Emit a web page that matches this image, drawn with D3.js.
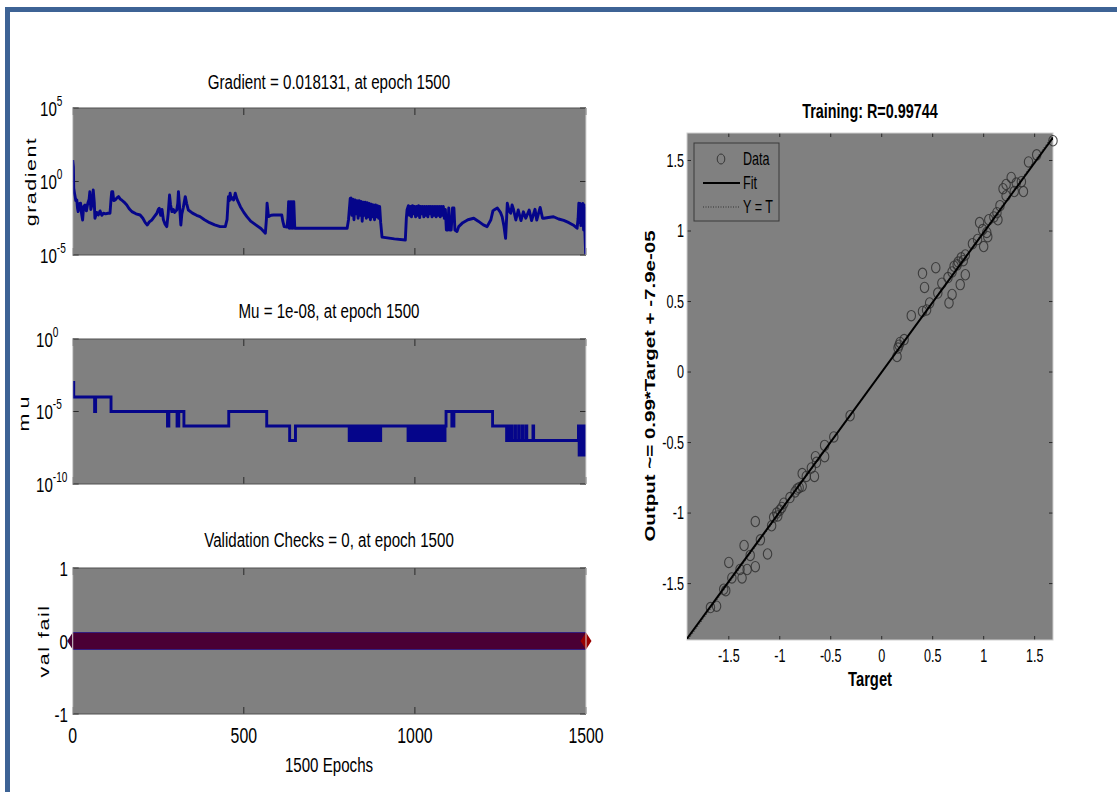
<!DOCTYPE html>
<html>
<head>
<meta charset="utf-8">
<script src="https://cdn.jsdelivr.net/npm/d3@7"></script>
<style>
    body { margin: 0; background: #ffffff; }
    text { font-family: "Liberation Sans", Arial, sans-serif; fill: #000; }
</style>
</head>
<body>
<svg id="chart" width="1117" height="792"></svg>
<script>

// ---- data ----
const epochTicks = [0, 500, 1000, 1500];
const gradTickExp = [-5, 0, 5];
const muTickExp = [-10, -5, 0];
const valTicks = [-1, 0, 1];
const regTicks = [-1.5, -1, -0.5, 0, 0.5, 1, 1.5];

// [epoch, log10(gradient)]
const gradientLog = [
    [0,1.46],[2,1.0],[3,-0.46],[6,-0.9],[9,-1.3],[12,-1.26],[14,-1.8],[16,-2.05],[19,-1.5],[23,-1.48],
    [26,-2.2],[29,-2.62],[32,-1.7],[36,-1.6],[40,-2.0],[44,-1.5],[48,-1.2],[50,-0.7],[53,-1.9],[57,-1.5],
    [60,-0.58],[63,-1.4],[65,-2.5],[70,-2.1],[75,-2.28],[80,-2.0],[85,-2.3],[90,-2.16],[96,-2.2],[103,-2.16],
    [109,-2.16],[112,-1.2],[114,-0.7],[117,-0.69],[120,-1.3],[124,-1.26],[130,-1.1],[134,-1.03],[139,-1.2],[143,-1.26],
    [150,-1.4],[158,-1.6],[165,-1.85],[173,-2.05],[185,-2.2],[197,-2.28],[205,-2.5],[212,-2.8],[218,-2.96],[224,-2.75],
    [231,-2.62],[238,-2.4],[246,-2.16],[250,-1.9],[253,-1.82],[257,-2.3],[261,-1.9],[265,-2.6],[270,-2.9],[275,-3.07],
    [279,-2.2],[283,-0.92],[286,-1.6],[290,-2.05],[294,-1.9],[298,-2.1],[304,-1.94],[307,-1.5],[309,-0.69],[312,-1.6],
    [316,-2.96],[319,-2.2],[323,-1.8],[326,-1.4],[329,-1.03],[333,-1.5],[338,-1.94],[350,-2.15],[362,-2.3],[372,-2.39],
    [385,-2.6],[400,-2.8],[415,-2.95],[431,-3.07],[446,-3.07],[451,-2.6],[455,-1.03],[458,-1.3],[460,-0.8],[463,-1.2],
    [467,-1.1],[470,-1.26],[473,-1.0],[475,-0.8],[480,-1.2],[490,-1.71],[500,-2.1],[509,-2.39],[520,-2.7],[535,-2.95],
    [550,-3.2],[563,-3.52],[566,-2.6],[568,-1.48],[570,-1.9],[572,-2.39],[580,-2.3],[587,-2.28],[600,-2.28],[611,-2.28],
    [614,-2.7],[618,-3.07],[626,-3.1],[629,-2.5],[631,-1.37],[633,-3.18],[636,-1.37],[638,-3.18],[641,-1.37],[643,-3.18],
    [646,-1.37],[649,-3.18],[652,-3.18],[700,-3.18],[750,-3.18],[802,-3.18],[806,-2.6],[811,-1.14],
    [813,-1.12],[816,-2.3],[819,-1.2],[822,-2.6],[825,-1.25],[828,-2.2],[831,-1.3],[834,-2.5],[837,-1.3],[840,-2.3],
    [843,-1.35],[846,-2.7],[849,-1.4],[852,-2.3],[855,-1.4],[858,-2.5],[861,-1.45],[864,-2.4],[867,-1.5],[870,-2.6],
    [873,-1.55],[876,-2.4],[879,-1.6],[882,-2.6],[885,-1.6],[888,-2.4],[891,-1.65],[894,-2.5],[897,-1.7],[900,-2.8],
    [904,-3.78],[940,-3.9],[972,-3.98],[975,-2.5],[977,-1.94],
    [981,-1.65],[984,-2.3],[987,-1.7],[990,-2.4],[993,-1.65],[996,-2.2],[999,-1.7],[1002,-2.4],[1005,-1.7],[1008,-2.3],
    [1011,-1.65],[1014,-2.45],[1017,-1.7],[1020,-2.2],[1023,-1.7],[1026,-2.4],[1029,-1.7],[1032,-2.3],[1035,-1.7],[1038,-2.4],
    [1041,-1.7],[1044,-2.2],[1047,-1.7],[1050,-2.4],[1053,-1.7],[1056,-2.3],[1059,-1.7],[1062,-2.4],[1065,-1.7],[1068,-2.3],
    [1071,-1.7],[1074,-2.4],[1077,-1.7],[1080,-2.3],[1083,-1.7],[1086,-2.5],[1089,-1.9],[1092,-3.3],[1096,-3.3],[1099,-1.8],
    [1102,-3.3],[1106,-3.3],[1110,-1.8],[1114,-1.8],[1117,-3.3],[1123,-3.4],[1128,-3.07],[1140,-2.8],[1155,-2.6],[1172,-2.5],
    [1185,-2.7],[1200,-2.95],[1211,-3.07],[1222,-2.6],[1228,-2.0],[1231,-1.94],[1241,-1.8],[1250,-2.1],[1255,-2.4],[1260,-3.0],
    [1265,-3.87],[1268,-2.5],[1270,-1.48],[1275,-2.0],[1280,-2.16],[1284,-1.6],[1288,-1.89],[1295,-2.62],[1302,-1.94],[1310,-2.66],
    [1317,-2.06],[1324,-2.5],[1334,-1.94],[1341,-2.66],[1351,-1.89],[1356,-2.62],[1366,-1.76],[1373,-2.5],[1377,-2.5],[1390,-2.45],
    [1405,-2.4],[1420,-2.55],[1435,-2.65],[1450,-2.8],[1465,-3.0],[1474,-3.18],[1477,-2.5],[1479,-1.48],[1481,-2.8],[1483,-1.5],
    [1485,-3.0],[1487,-1.6],[1489,-2.9],[1491,-1.5],[1493,-3.3],[1495,-1.6],[1497,-3.6],[1499,-4.9],[1500,-1.74]
];

// [epoch, log10(mu)] -- value holds until the next epoch in the list
const muLog = [
    [0,-3],[3,-4],[64,-5],[67,-4],[112,-5],[277,-6],[281,-5],[305,-6],[310,-5],[325,-6],
    [456,-5],[567,-6],[634,-7],[651,-6],
    [808,-7],[812,-6],[816,-7],[820,-6],[824,-7],[828,-6],[832,-7],[836,-6],[840,-7],[844,-6],
    [848,-7],[852,-6],[856,-7],[860,-6],[864,-7],[868,-6],[872,-7],[876,-6],[880,-7],[884,-6],
    [888,-7],[892,-6],[896,-7],[900,-6],[904,-6],
    [980,-7],[984,-6],[988,-7],[992,-6],[996,-7],[1000,-6],[1004,-7],[1008,-6],[1012,-7],[1016,-6],
    [1020,-7],[1024,-6],[1028,-7],[1032,-6],[1036,-7],[1040,-6],[1044,-7],[1048,-6],[1052,-7],[1056,-6],
    [1060,-7],[1064,-6],[1068,-7],[1072,-6],[1076,-7],[1080,-6],[1084,-7],[1088,-6],[1091,-5],
    [1108,-6],[1114,-5],[1227,-6],[1268,-7],[1271,-6],[1273,-7],[1276,-6],[1278,-7],[1281,-6],[1283,-7],
    [1292,-6],[1294,-7],[1303,-6],[1305,-7],[1314,-6],[1316,-7],[1325,-6],[1327,-7],[1345,-6],[1347,-7],
    [1478,-6],[1480,-8],[1482,-6],[1484,-8],[1486,-7],[1488,-8],[1490,-6],[1492,-8],[1494,-7],[1496,-8],
    [1498,-6],[1499,-8],[1500,-8]
];

const valEpochs = [0, 1500];
const valFail = [0, 0];

// regression: targets and network outputs
const targets = [
    1.68,1.52,1.44,1.27,1.22,1.19,1.32,1.37,1.30,1.39,1.22,1.16,1.13,1.14,1.05,0.96,0.99,1.03,1.04,1.00,
    0.94,0.89,0.82,0.78,0.75,0.71,0.69,0.65,0.82,0.77,0.59,0.55,0.69,0.66,0.47,0.44,0.40,0.29,0.53,0.40,
    0.42,0.22,0.18,0.16,0.15,0.17,0.74,0.80,1.10,
    -0.31,-0.47,-0.56,-0.56,-0.65,-0.64,-0.69,-0.66,-0.78,-0.74,-0.78,-0.81,-0.85,-0.90,-0.96,-1.00,-1.03,-1.06,-1.08,-1.24,
    -1.19,-1.35,-1.29,-1.12,-1.50,-1.39,-1.32,-1.24,-1.47,-1.37,-1.55,-1.62,-1.68,-0.83,-1.02,-0.98,-1.53
];
const outputs = [
    1.64,1.54,1.49,1.38,1.33,1.30,1.34,1.35,1.28,1.28,1.25,1.18,1.13,1.08,1.08,1.06,1.01,0.99,0.96,0.89,
    0.94,0.91,0.83,0.81,0.78,0.75,0.71,0.67,0.69,0.62,0.63,0.56,0.55,0.49,0.49,0.44,0.43,0.40,0.74,0.70,
    0.60,0.23,0.21,0.17,0.11,0.19,0.76,0.79,1.10,
    -0.31,-0.46,-0.52,-0.60,-0.60,-0.64,-0.68,-0.74,-0.72,-0.74,-0.81,-0.82,-0.85,-0.89,-0.93,-0.98,-1.00,-1.03,-1.09,-1.06,
    -1.19,-1.23,-1.30,-1.29,-1.35,-1.40,-1.40,-1.38,-1.46,-1.46,-1.54,-1.66,-1.67,-0.83,-1.02,-0.96,-1.55
];
const fitSlope = 0.99, fitOffset = -7.9e-05;

// ---- layout ----
const K = 0.72;          // the original picture is squeezed horizontally
const lineColor = "#05058a";
const bg = "#808080";
const svg = d3.select("#chart");

// page frame
svg.append("rect").attr("x", 5).attr("y", 7).attr("width", 1112).attr("height", 5).attr("fill", "#3d6395");
svg.append("rect").attr("x", 5).attr("y", 7).attr("width", 5).attr("height", 785).attr("fill", "#3d6395");

function label(g, x, y, str, size, opt) {
    opt = opt || {};
    let t = g.append("text")
        .attr("transform", "translate(" + x + "," + y + ") scale(" + K + ",1)" + (opt.rotate ? " rotate(-90)" : ""))
        .attr("font-size", size)
        .attr("text-anchor", opt.anchor || "middle")
        .text(str);
    if (opt.bold) t.attr("font-weight", "bold");
    if (opt.spacing) t.attr("letter-spacing", opt.spacing);
    return t;
}

function powLabel(g, x, y, exp) {
    let t = g.append("text")
        .attr("transform", "translate(" + x + "," + y + ") scale(" + K + ",1)")
        .attr("font-size", 21);
    t.append("tspan").text("10");
    t.append("tspan").attr("dy", -10).attr("font-size", 14).text(exp);
}

let x = d3.scaleLinear().domain([0, 1500]).range([72.7, 586]);

// draws the gray box with inward ticks
function drawBox(top, bottom, yScale, yTickVals, id) {
    let g = svg.append("g");
    g.append("rect").attr("x", x(0)).attr("y", top)
        .attr("width", x(1500) - x(0)).attr("height", bottom - top).attr("fill", bg);
    svg.append("clipPath").attr("id", id).append("rect")
        .attr("x", x(0)).attr("y", top).attr("width", x(1500) - x(0)).attr("height", bottom - top);
    epochTicks.forEach(function(e) {
        g.append("line").attr("x1", x(e)).attr("x2", x(e)).attr("y1", top).attr("y2", top + 7).attr("stroke", "#2a2a2a");
        g.append("line").attr("x1", x(e)).attr("x2", x(e)).attr("y1", bottom).attr("y2", bottom - 7).attr("stroke", "#2a2a2a");
    });
    yTickVals.forEach(function(v) {
        g.append("line").attr("x1", x(0)).attr("x2", x(0) + 6).attr("y1", yScale(v)).attr("y2", yScale(v)).attr("stroke", "#2a2a2a");
        g.append("line").attr("x1", x(1500)).attr("x2", x(1500) - 6).attr("y1", yScale(v)).attr("y2", yScale(v)).attr("stroke", "#2a2a2a");
    });
    return g;
}

function drawFrame(top, bottom) {
    let g = svg.append("g").attr("fill", "none");
    g.append("line").attr("x1", x(0)).attr("x2", x(1500)).attr("y1", top).attr("y2", top).attr("stroke", "#505050");
    g.append("line").attr("x1", x(0)).attr("x2", x(1500)).attr("y1", bottom).attr("y2", bottom).attr("stroke", "#505050");
    g.append("line").attr("x1", x(0)).attr("x2", x(0)).attr("y1", top).attr("y2", bottom).attr("stroke", "#d4d4d4");
    g.append("line").attr("x1", x(1500)).attr("x2", x(1500)).attr("y1", top).attr("y2", bottom).attr("stroke", "#d4d4d4");
}

// ---- gradient panel ----
let gY = d3.scaleLog().domain([1e-5, 1e5]).range([255, 108]);
drawBox(108, 255, gY, gradTickExp.map(e => Math.pow(10, e)), "clipGrad");
svg.append("path")
    .datum(gradientLog)
    .attr("clip-path", "url(#clipGrad)")
    .attr("fill", "none").attr("stroke", lineColor).attr("stroke-width", 2.9)
    .attr("stroke-linejoin", "round")
    .attr("d", d3.line().x(d => x(d[0])).y(d => gY(Math.pow(10, d[1]))));
drawFrame(108, 255);
gradTickExp.forEach(e => powLabel(svg, 40, gY(Math.pow(10, e)) + 7.5, e));
label(svg, 329, 89, "Gradient = 0.018131, at epoch 1500", 21);
label(svg, 36, 181.5, "gradient", 21.5, {rotate: true, spacing: 1.5});

// ---- mu panel ----
let mY = d3.scaleLog().domain([1e-10, 1]).range([484, 339]);
drawBox(339, 484, mY, muTickExp.map(e => Math.pow(10, e)), "clipMu");
svg.append("path")
    .datum(muLog)
    .attr("clip-path", "url(#clipMu)")
    .attr("fill", "none").attr("stroke", lineColor).attr("stroke-width", 2.9)
    .attr("d", d3.line().curve(d3.curveStepAfter).x(d => x(d[0])).y(d => mY(Math.pow(10, d[1]))));
drawFrame(339, 484);
muTickExp.forEach(e => powLabel(svg, 36, mY(Math.pow(10, e)) + 7.5, e));
label(svg, 329, 318, "Mu = 1e-08, at epoch 1500", 21);
label(svg, 29, 411.5, "mu", 21.5, {rotate: true, spacing: 5});

// ---- validation panel ----
let vY = d3.scaleLinear().domain([-1, 1]).range([714, 568]);
drawBox(568, 714, vY, valTicks, "clipVal");
let valPts = valEpochs.map((e, i) => [x(e), vY(valFail[i])]);
svg.append("line")
    .attr("x1", valPts[0][0]).attr("x2", valPts[1][0])
    .attr("y1", valPts[0][1]).attr("y2", valPts[1][1])
    .attr("stroke", "#4a0034").attr("stroke-width", 17);
[-8.5, 8.5].forEach(function(off) {
    svg.append("line")
        .attr("x1", valPts[0][0]).attr("x2", valPts[1][0])
        .attr("y1", valPts[0][1] + off).attr("y2", valPts[1][1] + off)
        .attr("stroke", "#2b1a86").attr("stroke-width", 1.2).attr("opacity", 0.85);
});
function diamond(cx, cy, color) {
    svg.append("path")
        .attr("d", "M" + (cx - 5.5) + "," + cy + "L" + cx + "," + (cy - 8.5) + "L" + (cx + 5.5) + "," + cy + "L" + cx + "," + (cy + 8.5) + "Z")
        .attr("fill", color);
}
diamond(valPts[0][0], valPts[0][1], "#4a0034");
diamond(valPts[1][0], valPts[1][1], "#9a0000");
drawFrame(568, 714);
valTicks.forEach(v => label(svg, 68, vY(v) + 7.5, String(v), 21, {anchor: "end"}));
epochTicks.forEach(e => label(svg, x(e), 743, String(e), 22));
label(svg, 329, 772, "1500 Epochs", 21);
label(svg, 329, 547, "Validation Checks = 0, at epoch 1500", 21);
label(svg, 49, 641, "val fail", 21.5, {rotate: true, spacing: 1.5});

// ---- regression panel ----
const R = {left: 687, right: 1053, top: 133, bottom: 640};
let sx = d3.scaleLinear().domain([-1.91, 1.68]).range([R.left, R.right]);
let sy = d3.scaleLinear().domain([-1.90, 1.695]).range([R.bottom, R.top]);
let rg = svg.append("g");
rg.append("rect").attr("x", R.left).attr("y", R.top)
    .attr("width", R.right - R.left).attr("height", R.bottom - R.top).attr("fill", bg);
svg.append("clipPath").attr("id", "clipReg").append("rect")
    .attr("x", R.left).attr("y", R.top).attr("width", R.right - R.left).attr("height", R.bottom - R.top);
regTicks.forEach(function(v) {
    rg.append("line").attr("x1", sx(v)).attr("x2", sx(v)).attr("y1", R.bottom).attr("y2", R.bottom - 4).attr("stroke", "#2a2a2a");
    rg.append("line").attr("x1", sx(v)).attr("x2", sx(v)).attr("y1", R.top).attr("y2", R.top + 4).attr("stroke", "#2a2a2a");
    rg.append("line").attr("x1", R.left).attr("x2", R.left + 4).attr("y1", sy(v)).attr("y2", sy(v)).attr("stroke", "#2a2a2a");
    rg.append("line").attr("x1", R.right).attr("x2", R.right - 4).attr("y1", sy(v)).attr("y2", sy(v)).attr("stroke", "#2a2a2a");
    label(svg, sx(v), 662, String(v), 17.5);
    label(svg, R.left - 3, sy(v) + 6, String(v), 17.5, {anchor: "end"});
});
rg.append("rect").attr("x", R.left).attr("y", R.top)
    .attr("width", R.right - R.left).attr("height", R.bottom - R.top)
    .attr("fill", "none").attr("stroke", "#cfcfcf");

let xDom = sx.domain();
// Y = T
svg.append("line").attr("clip-path", "url(#clipReg)")
    .attr("x1", sx(xDom[0])).attr("y1", sy(xDom[0])).attr("x2", sx(xDom[1])).attr("y2", sy(xDom[1]))
    .attr("stroke", "#333").attr("stroke-width", 1).attr("stroke-dasharray", "1,2");
// data
svg.append("g").selectAll("ellipse").data(targets).enter().append("ellipse")
    .attr("cx", (d, i) => sx(d))
    .attr("cy", (d, i) => sy(outputs[i]))
    .attr("rx", 4.2).attr("ry", 5.2)
    .attr("fill", "none").attr("stroke", "#303030").attr("stroke-opacity", 0.85).attr("stroke-width", 1.1);
// fit
svg.append("line").attr("clip-path", "url(#clipReg)")
    .attr("x1", sx(xDom[0])).attr("y1", sy(fitSlope * xDom[0] + fitOffset))
    .attr("x2", sx(xDom[1])).attr("y2", sy(fitSlope * xDom[1] + fitOffset))
    .attr("stroke", "#000").attr("stroke-width", 2);

// legend
let lg = svg.append("g");
lg.append("rect").attr("x", 694).attr("y", 143).attr("width", 85).attr("height", 78)
    .attr("fill", bg).attr("stroke", "#3a3a3a").attr("stroke-width", 1);
lg.append("ellipse").attr("cx", 721).attr("cy", 159).attr("rx", 3.8).attr("ry", 5)
    .attr("fill", "none").attr("stroke", "#353535");
lg.append("line").attr("x1", 703).attr("x2", 740).attr("y1", 183).attr("y2", 183).attr("stroke", "#000").attr("stroke-width", 2);
lg.append("line").attr("x1", 703).attr("x2", 740).attr("y1", 207).attr("y2", 207)
    .attr("stroke", "#333").attr("stroke-dasharray", "1,1.5");
label(lg, 743, 165, "Data", 17.5, {anchor: "start"});
label(lg, 743, 189, "Fit", 17.5, {anchor: "start"});
label(lg, 743, 213, "Y = T", 17.5, {anchor: "start"});

label(svg, 870, 118, "Training: R=0.99744", 20, {bold: true});
label(svg, 870, 686, "Target", 20.5, {bold: true});
label(svg, 655, 386, "Output ~= 0.99*Target + -7.9e-05", 20.5, {bold: true, rotate: true});

</script>
</body>
</html>
